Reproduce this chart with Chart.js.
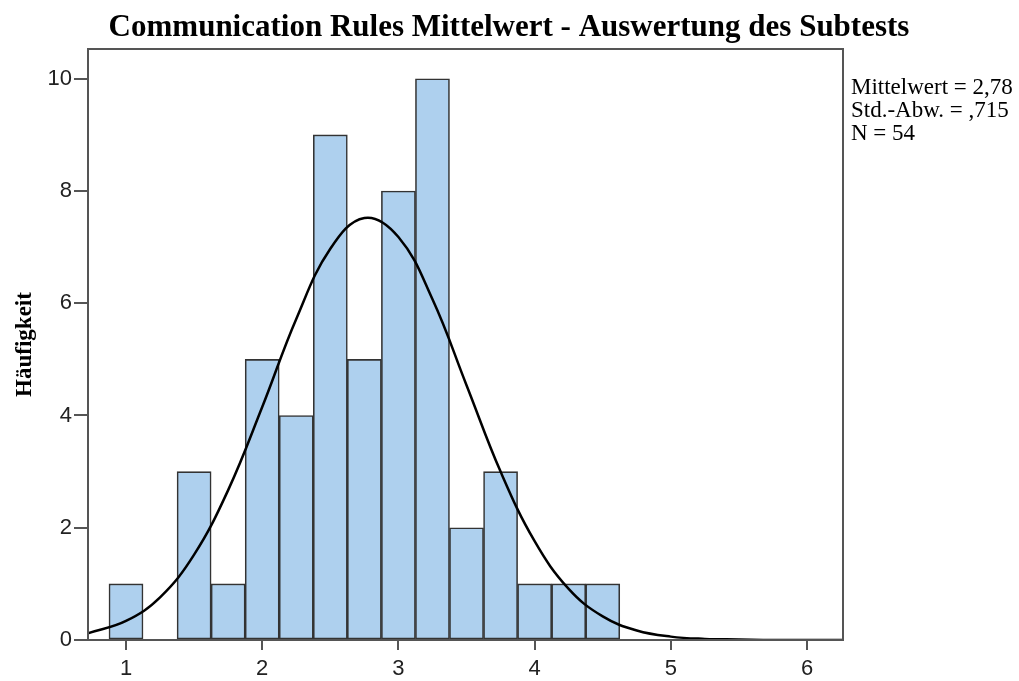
<!DOCTYPE html>
<html>
<head>
<meta charset="utf-8">
<script src="https://cdn.jsdelivr.net/npm/chart.js@4/dist/chart.umd.min.js"></script>
<style>
  body { margin: 0; background: #fff; }
  canvas { display: block; }
</style>
</head>
<body>
<canvas id="histo" width="1019" height="681"></canvas>
<script>
// Klassenmitten (Breite 0,25) und Häufigkeiten
const binMitten = [1.0, 1.25, 1.5, 1.75, 2.0, 2.25, 2.5, 2.75, 3.0, 3.25, 3.5, 3.75, 4.0, 4.25, 4.5];
const haeufigkeit = [1, 0, 3, 1, 5, 4, 9, 5, 8, 10, 2, 3, 1, 1, 1];

// Normalverteilungskurve
const kurveX = [0.72, 1.0, 1.25, 1.5, 1.75, 2.0, 2.25, 2.5, 2.75, 3.0, 3.25, 3.5, 3.75, 4.0, 4.25, 4.5, 4.75, 5.0, 5.25, 5.5, 5.75, 6.0, 6.27];
const kurveY = [0.12, 0.34, 0.76, 1.52, 2.67, 4.15, 5.72, 6.97, 7.52, 7.18, 6.07, 4.54, 3.0, 1.76, 0.91, 0.42, 0.17, 0.06, 0.02, 0.01, 0, 0, 0];

const xTicks = [1, 2, 3, 4, 5, 6];
const yTicks = [0, 2, 4, 6, 8, 10];

const titel = 'Communication Rules Mittelwert - Auswertung des Subtests';
const statistik = ['Mittelwert = 2,78', 'Std.-Abw. = ,715', 'N = 54'];

const rahmenFarbe = '#555';

const extras = {
  id: 'extras',
  afterDraw(chart) {
    const c = chart.ctx;
    const a = chart.chartArea;
    c.save();
    // Rahmen
    c.strokeStyle = rahmenFarbe;
    c.lineWidth = 2;
    c.strokeRect(a.left, a.top, a.right - a.left, a.bottom - a.top);
    // Titel
    c.fillStyle = '#000';
    c.font = 'bold 31px "Liberation Serif"';
    c.textAlign = 'center';
    c.textBaseline = 'alphabetic';
    c.fillText(titel, 509, 36);
    // Statistik
    c.font = '23px "Liberation Serif"';
    c.textAlign = 'left';
    statistik.forEach((t, i) => c.fillText(t, 851, 94 + i * 23));
    c.restore();
  }
};

const ctx = document.getElementById('histo').getContext('2d');
const chart = new Chart(ctx, {
  type: 'bar',
  data: {
    datasets: [
      {
        type: 'line',
        data: kurveX.map((x, i) => ({ x: x, y: kurveY[i] })),
        borderColor: '#000',
        borderWidth: 2.5,
        pointRadius: 0,
        tension: 0.4,
        fill: false,
        order: 0
      },
      {
        type: 'bar',
        data: binMitten.map((x, i) => ({ x: x, y: haeufigkeit[i] })),
        backgroundColor: '#aed0ee',
        borderColor: '#333',
        borderWidth: 1.6,
        borderSkipped: false,
        barPercentage: 1,
        categoryPercentage: 1,
        order: 1
      }
    ]
  },
  options: {
    responsive: false,
    animation: false,
    layout: { padding: { top: 49, right: 176, left: 0, bottom: 0 } },
    plugins: {
      legend: { display: false },
      tooltip: { enabled: false }
    },
    scales: {
      x: {
        type: 'linear',
        min: 0.721,
        max: 6.264,
        offset: false,
        afterFit: s => { s.height = 41; },
        afterBuildTicks: s => { s.ticks = xTicks.map(v => ({ value: v })); },
        ticks: {
          includeBounds: false,
          padding: 6,
          color: '#222',
          font: { family: '"Liberation Sans"', size: 22 }
        },
        grid: { offset: false, drawOnChartArea: false, drawTicks: true, tickLength: 10, color: rahmenFarbe, lineWidth: 2 },
        border: { display: false }
      },
      y: {
        min: 0,
        max: 10.53,
        afterFit: s => { s.width = 88; },
        afterBuildTicks: s => { s.ticks = yTicks.map(v => ({ value: v })); },
        ticks: {
          includeBounds: false,
          padding: 2,
          color: '#222',
          font: { family: '"Liberation Sans"', size: 22 }
        },
        grid: { drawOnChartArea: false, drawTicks: true, tickLength: 14, color: rahmenFarbe, lineWidth: 2 },
        border: { display: false },
        title: {
          display: true,
          text: 'Häufigkeit',
          color: '#000',
          padding: { top: 11, bottom: 0 },
          font: { family: '"Liberation Serif"', size: 23, weight: 'bold' }
        }
      }
    }
  },
  plugins: [extras]
});
</script>
</body>
</html>
